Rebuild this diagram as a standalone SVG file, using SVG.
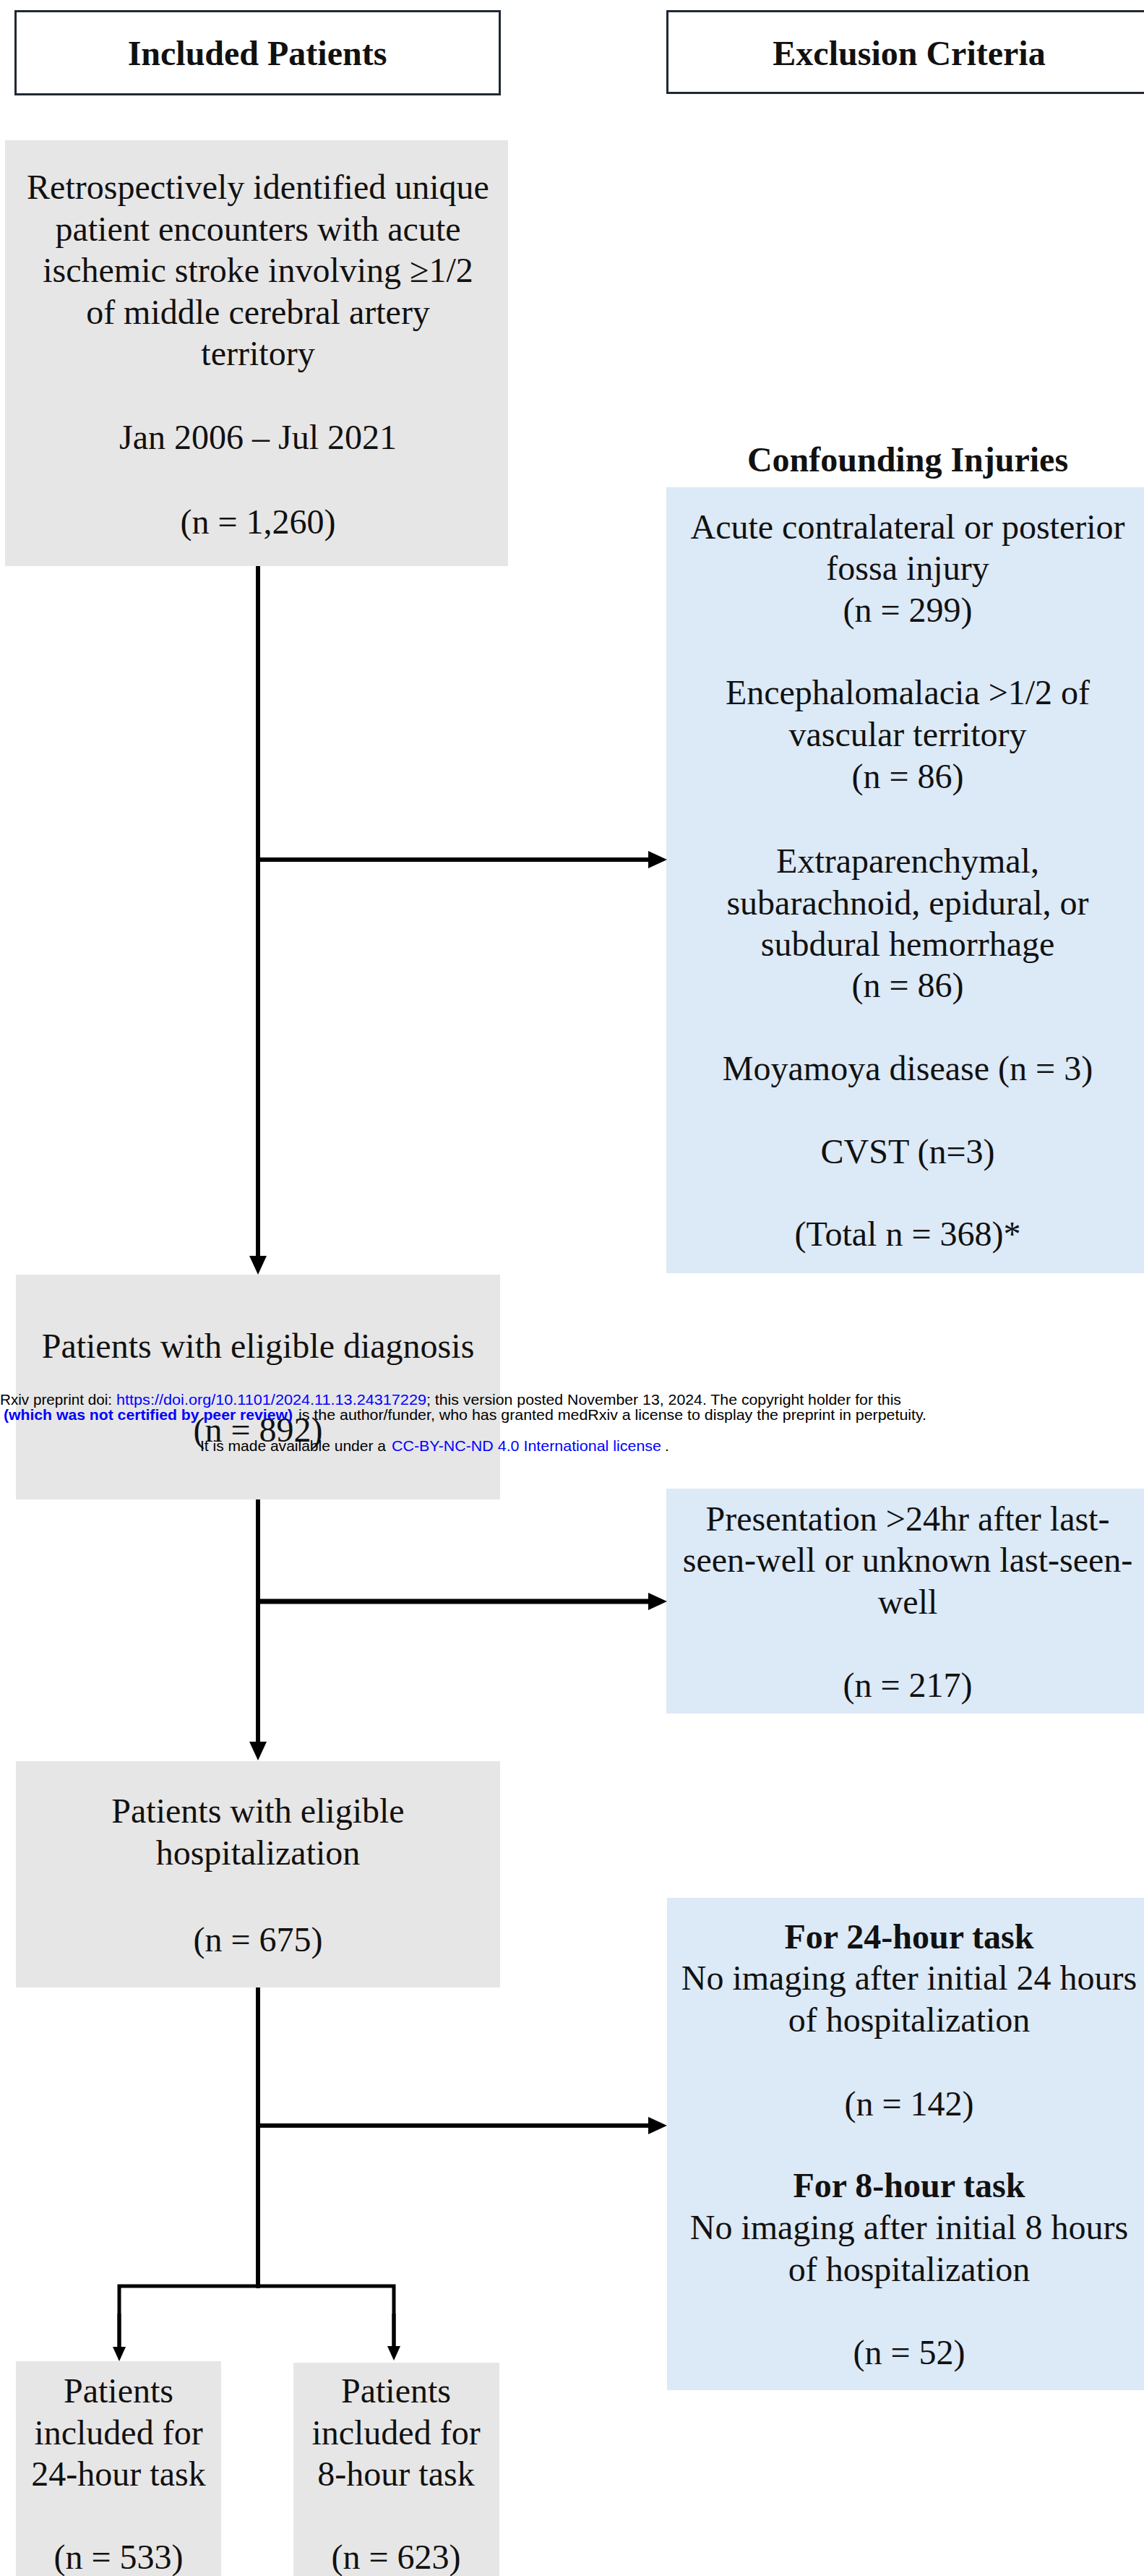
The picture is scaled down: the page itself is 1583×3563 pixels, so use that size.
<svg xmlns="http://www.w3.org/2000/svg" width="1583" height="3563" viewBox="0 0 1583 3563">
<style>
.t{font-family:'Liberation Serif','Times New Roman',serif;font-size:48px;fill:#111;text-anchor:middle}
.b{font-weight:bold}
.gray{fill:#e7e6e6}
.blue{fill:#dce9f6}
.hdr{fill:#ffffff;stroke:#1f2933;stroke-width:3}
.ln{stroke:#000;stroke-width:6;fill:none}
.ln8{stroke:#000;stroke-width:7;fill:none}
.ln5{stroke:#000;stroke-width:5;fill:none}
.w{font-family:'Liberation Sans',Arial,sans-serif;font-size:21px;fill:#000}
.wl{fill:#0000ff}
</style>
<defs>
<marker id="ah" markerUnits="userSpaceOnUse" markerWidth="26" markerHeight="24" refX="15" refY="12" orient="auto">
<path d="M0,0 L26,12 L0,24 z" fill="#000"/>
</marker>
<marker id="as" markerUnits="userSpaceOnUse" markerWidth="20" markerHeight="18" refX="12" refY="9" orient="auto">
<path d="M0,0 L20,9 L0,18 z" fill="#000"/>
</marker>
</defs>
<rect width="1583" height="3563" fill="#ffffff"/>

<g id="hdr-included">
<rect class="hdr" x="21.5" y="15.5" width="670" height="115"/>
<text class="t b" x="356" y="90">Included Patients</text>
</g>
<g id="hdr-exclusion">
<rect class="hdr" x="923.5" y="15.5" width="700" height="113"/>
<text class="t b" x="1258" y="90">Exclusion Criteria</text>
</g>

<g id="n-identified">
<rect class="gray" x="7" y="194" width="696" height="589"/>
<text class="t" x="357" y="275">Retrospectively identified unique</text>
<text class="t" x="357" y="333">patient encounters with acute</text>
<text class="t" x="357" y="390">ischemic stroke involving ≥1/2</text>
<text class="t" x="357" y="448">of middle cerebral artery</text>
<text class="t" x="357" y="505">territory</text>
<text class="t" x="357" y="621">Jan 2006 – Jul 2021</text>
<text class="t" x="357" y="738">(n = 1,260)</text>
</g>

<g id="n-confounding">
<text class="t b" x="1256" y="652">Confounding Injuries</text>
<rect class="blue" x="922" y="674" width="661" height="1087"/>
<text class="t" x="1256" y="745">Acute contralateral or posterior</text>
<text class="t" x="1256" y="802">fossa injury</text>
<text class="t" x="1256" y="860">(n = 299)</text>
<text class="t" x="1256" y="974">Encephalomalacia &gt;1/2 of</text>
<text class="t" x="1256" y="1032">vascular territory</text>
<text class="t" x="1256" y="1090">(n = 86)</text>
<text class="t" x="1256" y="1207">Extraparenchymal,</text>
<text class="t" x="1256" y="1265">subarachnoid, epidural, or</text>
<text class="t" x="1256" y="1322">subdural hemorrhage</text>
<text class="t" x="1256" y="1379">(n = 86)</text>
<text class="t" x="1256" y="1494">Moyamoya disease (n = 3)</text>
<text class="t" x="1256" y="1609">CVST (n=3)</text>
<text class="t" x="1256" y="1723">(Total n = 368)*</text>
</g>

<g id="n-diagnosis">
<rect class="gray" x="22" y="1763" width="670" height="311"/>
<text class="t" x="357" y="1878">Patients with eligible diagnosis</text>
<text class="t" x="357" y="1994">(n = 892)</text>
</g>

<g id="n-presentation">
<rect class="blue" x="922" y="2059" width="661" height="311"/>
<text class="t" x="1256" y="2117">Presentation &gt;24hr after last-</text>
<text class="t" x="1256" y="2174">seen-well or unknown last-seen-</text>
<text class="t" x="1256" y="2232">well</text>
<text class="t" x="1256" y="2347">(n = 217)</text>
</g>

<g id="n-hospitalization">
<rect class="gray" x="22" y="2436" width="670" height="313"/>
<text class="t" x="357" y="2521">Patients with eligible</text>
<text class="t" x="357" y="2579">hospitalization</text>
<text class="t" x="357" y="2699">(n = 675)</text>
</g>

<g id="n-imaging">
<rect class="blue" x="923" y="2625" width="660" height="681"/>
<text class="t b" x="1258" y="2695">For 24-hour task</text>
<text class="t" x="1258" y="2752">No imaging after initial 24 hours</text>
<text class="t" x="1258" y="2810">of hospitalization</text>
<text class="t" x="1258" y="2926">(n = 142)</text>
<text class="t b" x="1258" y="3039">For 8-hour task</text>
<text class="t" x="1258" y="3097">No imaging after initial 8 hours</text>
<text class="t" x="1258" y="3155">of hospitalization</text>
<text class="t" x="1258" y="3270">(n = 52)</text>
</g>

<g id="n-24h">
<rect class="gray" x="22" y="3266" width="284" height="297"/>
<text class="t" x="164" y="3323">Patients</text>
<text class="t" x="164" y="3381">included for</text>
<text class="t" x="164" y="3438">24-hour task</text>
<text class="t" x="164" y="3553">(n = 533)</text>
</g>

<g id="n-8h">
<rect class="gray" x="406" y="3268" width="285" height="295"/>
<text class="t" x="548" y="3323">Patients</text>
<text class="t" x="548" y="3381">included for</text>
<text class="t" x="548" y="3438">8-hour task</text>
<text class="t" x="548" y="3553">(n = 623)</text>
</g>

<g id="connectors">
<line class="ln" x1="357" y1="783" x2="357" y2="1752" marker-end="url(#ah)"/>
<line class="ln" x1="357" y1="1189" x2="912" y2="1189" marker-end="url(#ah)"/>
<line class="ln" x1="357" y1="2074" x2="357" y2="2424" marker-end="url(#ah)"/>
<line class="ln8" x1="357" y1="2215" x2="912" y2="2215" marker-end="url(#ah)"/>
<line class="ln" x1="357" y1="2749" x2="357" y2="3165"/>
<line class="ln" x1="357" y1="2940" x2="912" y2="2940" marker-end="url(#ah)"/>
<polyline class="ln5" points="165,3257 165,3162 545,3162 545,3257"/>
<line class="ln5" x1="165" y1="3200" x2="165" y2="3258" marker-end="url(#as)"/>
<line class="ln5" x1="545" y1="3200" x2="545" y2="3257" marker-end="url(#as)"/>
</g>

<g id="watermark">
<text class="w" x="0" y="1943" textLength="155" lengthAdjust="spacingAndGlyphs">Rxiv preprint doi:</text>
<text class="w wl" x="161" y="1943" textLength="429" lengthAdjust="spacingAndGlyphs">https://doi.org/10.1101/2024.11.13.24317229</text>
<text class="w" x="590" y="1943" textLength="657" lengthAdjust="spacingAndGlyphs">; this version posted November 13, 2024. The copyright holder for this</text>
<text class="w wl" x="5" y="1964" font-weight="bold" textLength="400" lengthAdjust="spacingAndGlyphs">(which was not certified by peer review)</text>
<text class="w" x="413" y="1964" textLength="869" lengthAdjust="spacingAndGlyphs">is the author/funder, who has granted medRxiv a license to display the preprint in perpetuity.</text>
<text class="w" x="277" y="2007" textLength="257" lengthAdjust="spacingAndGlyphs">It is made available under a</text>
<text class="w wl" x="542" y="2007" textLength="373" lengthAdjust="spacingAndGlyphs">CC-BY-NC-ND 4.0 International license</text>
<text class="w" x="920" y="2007">.</text>
</g>
</svg>
